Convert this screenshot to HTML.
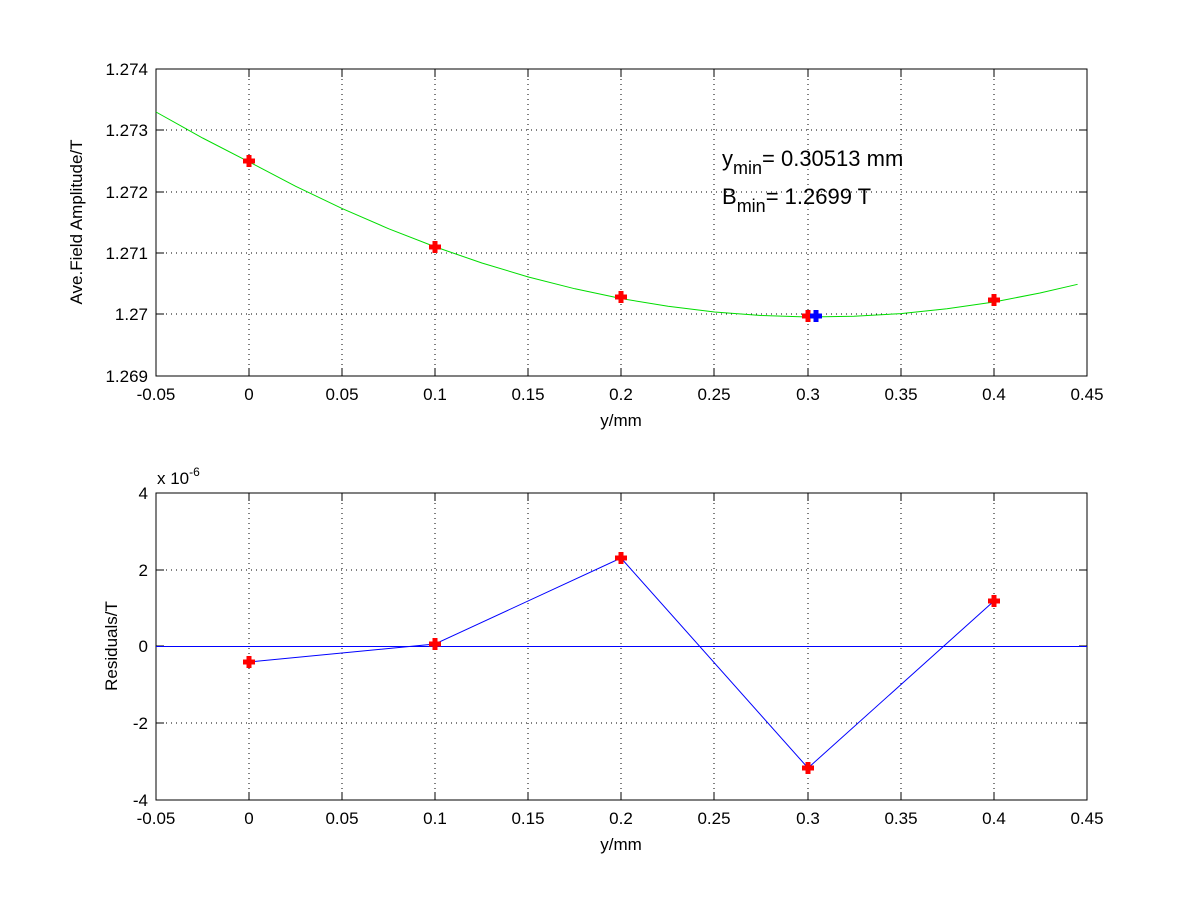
<!DOCTYPE html>
<html><head><style>body{margin:0;background:#fff}svg text{font-family:"Liberation Sans",sans-serif;font-size:17px}</style></head><body>
<svg width="1200" height="900" xmlns="http://www.w3.org/2000/svg">
<defs><g id="p"><path d="M-6,-2.5H6V2.5H-6Z M-2.5,-6H2.5V6H-2.5Z" fill="red"/></g><g id="b"><path d="M-6,-2.5H6V2.5H-6Z M-2.5,-6H2.5V6H-2.5Z" fill="blue"/></g></defs>
<rect width="1200" height="900" fill="#fff"/>
<g stroke="#000" stroke-width="1" stroke-dasharray="1,4">
<path d="M249,69V376M342,69V376M435,69V376M528,69V376M621,69V376M714,69V376M808,69V376M901,69V376M994,69V376"/>
<path d="M156,130H1087M156,192H1087M156,253H1087M156,314H1087"/>
<path d="M249,493V800M342,493V800M435,493V800M528,493V800M621,493V800M714,493V800M808,493V800M901,493V800M994,493V800"/>
<path d="M156,570H1087M156,723H1087"/>
</g>
<g fill="none" stroke="#000" stroke-width="1">
<rect x="156" y="69" width="931" height="307"/>
<rect x="156" y="493" width="931" height="307"/>
<path d="M249,376v-8M342,376v-8M435,376v-8M528,376v-8M621,376v-8M714,376v-8M808,376v-8M901,376v-8M994,376v-8M249,69v8M342,69v8M435,69v8M528,69v8M621,69v8M714,69v8M808,69v8M901,69v8M994,69v8"/>
<path d="M156,130h8M156,192h8M156,253h8M156,314h8M1087,130h-8M1087,192h-8M1087,253h-8M1087,314h-8"/>
<path d="M249,800v-8M342,800v-8M435,800v-8M528,800v-8M621,800v-8M714,800v-8M808,800v-8M901,800v-8M994,800v-8M249,493v8M342,493v8M435,493v8M528,493v8M621,493v8M714,493v8M808,493v8M901,493v8M994,493v8"/>
<path d="M156,570h8M156,646h8M156,723h8M1087,570h-8M1087,646h-8M1087,723h-8"/>
</g>
<polyline fill="none" stroke="#00dd00" stroke-width="1" points="156,112 202.6,138 249.1,161.9 295.7,186.3 342.2,208.6 388.8,228.8 435.3,246.9 481.9,263 528.4,277 575,288.8 621.5,298.6 668,306.3 714.6,312 761,315.5 807.7,317 854,316.3 900.8,313.6 947,308.8 994,302 1040,293 1077.6,284.3"/>
<path fill="none" stroke="blue" stroke-width="1" d="M156,646.5H1087M249,662L435,644L621,558L808,768L994,601"/>
<use href="#p" x="249" y="161"/><use href="#p" x="435" y="247"/><use href="#p" x="621" y="297"/><use href="#p" x="808" y="316"/><use href="#p" x="994" y="300"/><use href="#b" x="816" y="316"/>
<g text-anchor="end">
<text x="148" y="75">1.274</text><text x="148" y="136">1.273</text><text x="148" y="198">1.272</text><text x="148" y="259">1.271</text><text x="148" y="320">1.27</text><text x="148" y="382">1.269</text>
<text x="148" y="499">4</text><text x="148" y="576">2</text><text x="148" y="652">0</text><text x="148" y="729">-2</text><text x="148" y="806">-4</text>
</g>
<g text-anchor="middle">
<text x="156" y="400">-0.05</text><text x="249" y="400">0</text><text x="342" y="400">0.05</text><text x="435" y="400">0.1</text><text x="528" y="400">0.15</text><text x="621" y="400">0.2</text><text x="714" y="400">0.25</text><text x="808" y="400">0.3</text><text x="901" y="400">0.35</text><text x="994" y="400">0.4</text><text x="1087" y="400">0.45</text>
<text x="621" y="426">y/mm</text>
<text x="156" y="824">-0.05</text><text x="249" y="824">0</text><text x="342" y="824">0.05</text><text x="435" y="824">0.1</text><text x="528" y="824">0.15</text><text x="621" y="824">0.2</text><text x="714" y="824">0.25</text><text x="808" y="824">0.3</text><text x="901" y="824">0.35</text><text x="994" y="824">0.4</text><text x="1087" y="824">0.45</text>
<text x="621" y="850">y/mm</text>
<text transform="translate(82,222) rotate(-90)">Ave.Field Amplitude/T</text>
<text transform="translate(117,646) rotate(-90)">Residuals/T</text>
</g>
<text x="157" y="484">x 10<tspan font-size="12" dy="-8">-6</tspan></text>
<text x="722" y="166" style="font-size:22px">y<tspan style="font-size:18px" dy="8">min</tspan><tspan dy="-8">= 0.30513 mm</tspan></text>
<text x="722" y="204" style="font-size:22px">B<tspan style="font-size:18px" dy="8">min</tspan><tspan dy="-8">= 1.2699 T</tspan></text>
<use href="#p" x="249" y="662"/><use href="#p" x="435" y="644"/><use href="#p" x="621" y="558"/><use href="#p" x="808" y="768"/><use href="#p" x="994" y="601"/>
</svg>
</body></html>
